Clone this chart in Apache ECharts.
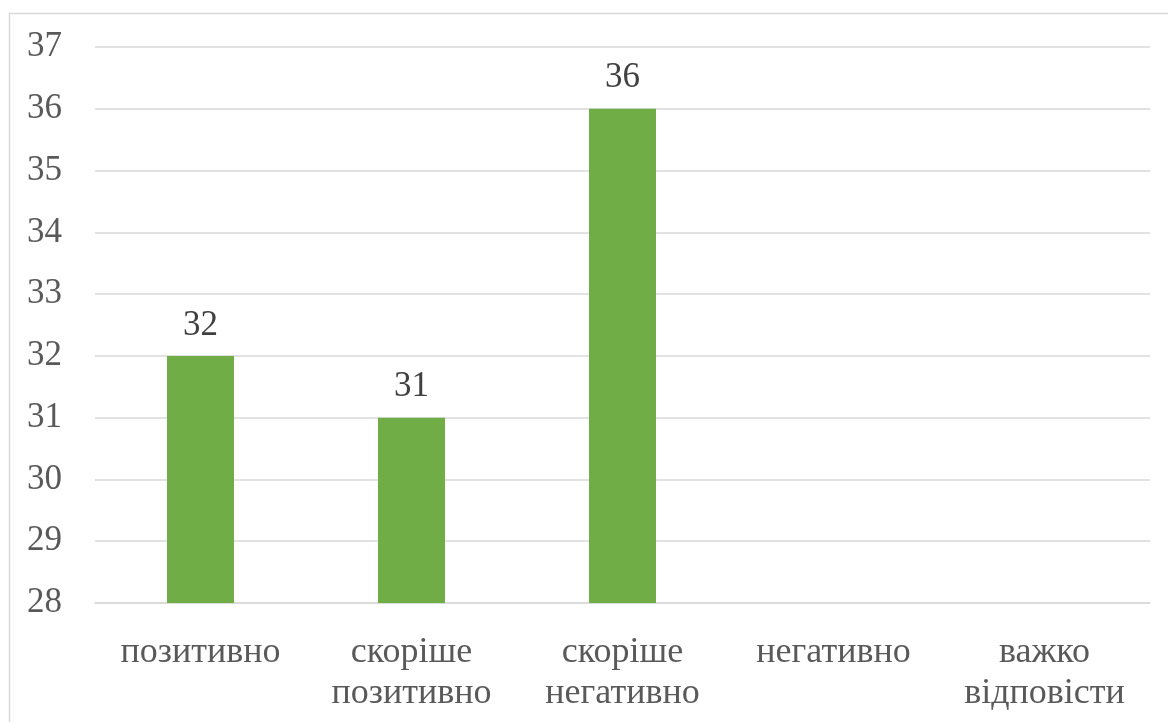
<!DOCTYPE html>
<html>
<head>
<meta charset="utf-8">
<script src="https://cdn.jsdelivr.net/npm/echarts@6/dist/echarts.min.js"></script>
<style>
  html, body { margin: 0; padding: 0; background: #fff; }
  #chart { width: 1168px; height: 722px; }
</style>
</head>
<body>
<div id="chart"></div>
<script>
// Survey answers and counts
const categories = ['позитивно', 'скоріше\nпозитивно', 'скоріше\nнегативно', 'негативно', 'важко\nвідповісти'];
const values = [32, 31, 36, null, null];
const yMin = 28;
const yMax = 37;
const yStep = 1;

const FONT = '"Liberation Serif", "Times New Roman", serif';

const chart = echarts.init(document.getElementById('chart'), null, { renderer: 'canvas' });
chart.setOption({
  animation: false,
  backgroundColor: '#ffffff',
  graphic: [{
    type: 'rect',
    shape: { x: 9.5, y: 13.5, width: 1200, height: 800 },
    style: { fill: 'none', stroke: '#d9d9d9', lineWidth: 1.5 },
    silent: true
  }],
  grid: { left: 95, right: 18, top: 47, bottom: 119 },
  xAxis: {
    type: 'category',
    data: categories,
    axisLine: { show: true, lineStyle: { color: '#d9d9d9', width: 1.5 } },
    axisTick: { show: false },
    axisLabel: {
      fontFamily: FONT, fontSize: 36, color: '#595959',
      lineHeight: 41, margin: 29, interval: 0
    }
  },
  yAxis: {
    type: 'value',
    min: yMin, max: yMax, interval: yStep,
    axisLine: { show: false },
    axisTick: { show: false },
    splitLine: { lineStyle: { color: '#d9d9d9', width: 1.5 } },
    axisLabel: { fontFamily: FONT, fontSize: 35, color: '#595959', margin: 33 }
  },
  series: [{
    type: 'bar',
    data: values,
    barWidth: 67,
    itemStyle: { color: '#70ad47' },
    label: {
      show: true, position: 'top', distance: 13,
      fontFamily: FONT, fontSize: 35, color: '#404040'
    }
  }]
});
</script>
</body>
</html>
